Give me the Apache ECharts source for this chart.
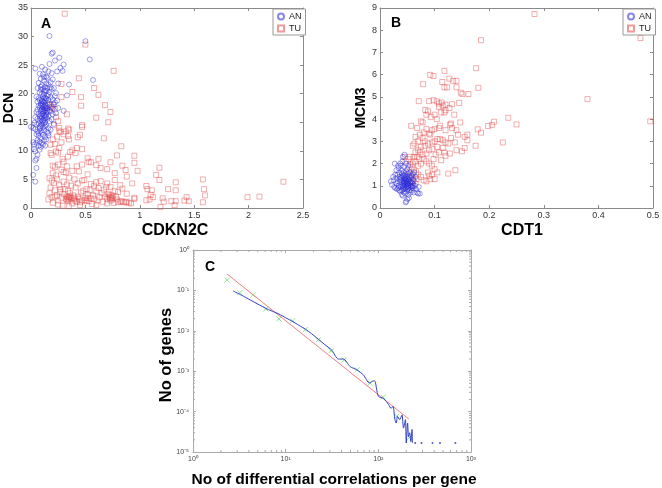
<!DOCTYPE html>
<html>
<head>
<meta charset="utf-8">
<script src="https://cdn.jsdelivr.net/npm/echarts@6/dist/echarts.min.js"></script>
<style>html,body{margin:0;padding:0;background:#fff}#c{width:662px;height:488px}</style>
</head>
<body>
<div id="c"></div>
<script>
// ---------- Panel A : CDKN2C vs DCN ----------
const anA = [
[0.17,30.1],[0.50,29.2],[0.20,27.2],[0.19,27.0],[0.54,26.0],[0.26,26.3],[0.22,25.8],[0.30,25.1],[0.17,25.2],[0.04,24.4],
[0.27,24.5],[0.24,23.9],[0.29,24.0],[0.10,24.7],[0.13,24.2],[0.16,23.9],[0.19,23.6],[0.11,23.4],[0.14,23.0],[0.08,23.5],
[0.57,22.4],[0.09,22.6],[0.12,22.3],[0.15,22.8],[0.18,22.0],[0.20,22.5],[0.25,21.8],[0.35,21.6],[0.07,21.9],[0.10,21.5],
[0.13,21.2],[0.16,21.6],[0.21,21.0],[0.06,21.0],[0.09,20.7],[0.11,20.9],[0.14,20.5],[0.17,20.3],[0.19,20.8],[0.23,20.1],
[0.08,20.2],[0.12,19.9],[0.15,19.6],[0.18,19.4],[0.33,19.7],[0.05,19.5],[0.07,19.2],[0.10,19.0],[0.13,18.8],[0.16,18.9],
[0.20,19.0],[0.22,18.5],[0.06,18.6],[0.09,18.3],[0.11,18.1],[0.14,17.9],[0.17,18.2],[0.19,17.7],[0.21,18.1],[0.25,17.5],
[0.30,17.0],[0.08,17.6],[0.10,17.3],[0.12,17.8],[0.13,17.1],[0.15,17.4],[0.18,16.9],[0.23,16.6],[0.05,16.8],[0.07,16.5],
[0.09,16.2],[0.11,16.6],[0.14,16.3],[0.16,16.0],[0.20,16.4],[0.04,15.9],[0.06,15.6],[0.08,15.3],[0.10,15.8],[0.12,15.4],
[0.13,15.0],[0.15,15.6],[0.17,15.2],[0.19,15.5],[0.03,14.9],[0.05,14.6],[0.07,14.8],[0.09,14.4],[0.11,14.1],[0.14,14.5],
[0.16,14.0],[0.21,14.7],[0.00,14.2],[0.02,14.0],[0.04,13.8],[0.06,13.4],[0.08,13.9],[0.10,13.2],[0.12,13.6],[0.15,13.3],
[0.18,13.7],[0.05,12.9],[0.07,12.6],[0.09,12.2],[0.11,12.8],[0.13,12.4],[0.16,12.7],[0.06,11.9],[0.08,11.6],[0.10,11.3],
[0.12,11.8],[0.02,11.5],[0.03,11.1],[0.05,11.4],[0.07,10.9],[0.09,10.7],[0.03,10.3],[0.04,9.9],[0.06,9.3],[0.05,8.6],
[0.04,8.3],[0.05,7.0],[0.02,5.8],[0.04,4.6],[0.11,19.5],[0.12,18.5],[0.13,19.3],[0.10,18.7],[0.14,19.1],[0.12,17.2],
[0.11,16.9],[0.13,16.1],[0.10,16.4],[0.12,16.8],[0.09,17.0],[0.14,17.5],[0.15,18.4],[0.13,18.0],[0.11,17.6],[0.10,15.1],
[0.12,14.8],[0.09,15.6],[0.14,15.9],[0.08,14.2],[0.11,15.3],[0.13,14.3],[0.12,20.4],[0.10,20.0],[0.13,20.6],[0.16,19.8],
[0.15,21.0],[0.09,21.2],[0.14,21.8],[0.12,22.9],[0.17,17.1],[0.07,17.9],[0.06,17.2],[0.08,18.9],[0.18,21.1],[0.22,19.6],
[0.24,18.8],[0.20,17.4],[0.08,16.0],[0.16,13.1],[0.07,13.1],[0.09,13.5],[0.14,12.0],[0.11,11.1],[0.08,10.2],[0.13,10.9],
[0.12,16.2],[0.11,18.6],[0.13,17.5],[0.10,17.9],[0.14,16.7],[0.09,18.0],[0.15,17.0],[0.12,19.2],[0.10,14.6],[0.13,15.7]
];
const tuA = [
[0.31,34.0],[0.50,28.6],[0.76,24.0],[0.44,22.7],[0.28,21.7],[0.58,21.0],[0.62,19.8],[0.38,20.3],[0.46,19.4],[0.28,19.4],
[0.46,17.9],[0.68,18.0],[0.73,16.8],[0.33,16.4],[0.60,15.8],[0.71,15.0],[0.47,14.5],[0.47,14.2],[0.34,13.9],[0.35,13.7],
[0.32,13.4],[0.30,12.9],[0.34,12.6],[0.35,12.0],[0.67,12.2],[0.26,13.5],[0.28,11.5],[0.22,11.2],[0.43,12.4],[0.45,12.8],
[0.83,10.8],[0.42,10.5],[0.38,10.1],[0.47,10.3],[0.36,9.8],[0.25,9.7],[0.23,9.9],[0.18,9.6],[0.19,9.3],[0.34,9.0],
[0.41,9.6],[0.62,8.6],[0.79,9.2],[0.95,9.15],[0.95,7.9],[0.73,8.0],[0.52,8.7],[0.53,8.1],[0.55,8.0],[0.29,8.6],
[0.30,8.1],[0.25,7.6],[0.20,7.4],[0.22,7.2],[0.33,7.3],[0.42,7.3],[0.47,7.6],[0.60,7.5],[0.64,7.0],[0.70,6.8],
[0.77,6.1],[0.84,7.4],[0.87,6.65],[0.98,6.5],[1.18,7.05],[1.15,5.8],[0.88,5.5],[0.52,5.9],[0.44,6.4],[0.38,6.5],
[0.32,6.2],[0.30,6.3],[0.28,6.7],[0.20,6.1],[0.23,5.7],[0.35,5.3],[0.40,5.0],[0.49,4.9],[0.60,4.5],[0.70,4.3],
[0.77,4.9],[0.73,3.7],[0.82,4.0],[0.93,4.3],[1.06,3.85],[1.18,4.9],[1.33,4.5],[1.58,5.0],[1.59,3.3],[1.60,2.2],
[1.58,1.0],[2.32,4.6],[1.99,1.9],[2.10,2.0],[1.26,3.3],[1.33,3.1],[1.07,3.3],[1.11,3.1],[1.43,1.9],[1.45,1.2],
[1.41,1.3],[1.33,1.2],[1.32,0.5],[1.29,1.2],[1.21,1.7],[1.22,1.1],[1.19,0.2],[1.12,1.9],[1.10,2.3],[1.09,1.5],
[1.06,1.35],[0.95,1.8],[0.95,1.6],[0.88,2.5],[0.88,1.1],[0.92,0.8],[0.87,1.0],[0.83,1.2],[0.80,1.0],[0.78,2.0],
[0.17,2.6],[0.19,1.9],[0.16,1.5],[0.20,0.9],[0.22,3.1],[0.24,2.2],[0.25,1.3],[0.27,2.8],[0.28,1.8],[0.29,0.4],
[0.30,2.4],[0.31,3.3],[0.32,1.6],[0.33,2.0],[0.34,1.2],[0.34,3.0],[0.35,1.9],[0.36,2.6],[0.37,1.7],[0.38,0.8],
[0.39,2.2],[0.40,1.5],[0.41,3.6],[0.42,1.1],[0.43,2.0],[0.44,1.6],[0.45,0.5],[0.46,2.7],[0.47,1.3],[0.48,3.0],
[0.50,1.8],[0.51,3.3],[0.52,2.4],[0.53,1.2],[0.54,3.1],[0.55,1.7],[0.56,0.7],[0.57,2.2],[0.58,1.6],[0.60,2.9],
[0.61,1.3],[0.62,3.5],[0.63,1.9],[0.65,2.6],[0.66,1.1],[0.67,3.2],[0.68,2.0],[0.69,3.7],[0.70,1.6],[0.71,2.5],
[0.72,1.9],[0.73,1.3],[0.74,2.2],[0.75,1.7],[0.76,0.9],[0.77,3.0],[0.79,1.5],[0.80,2.8],[0.82,1.1],[0.84,3.4],
[0.85,1.0],[0.90,0.9],[0.18,3.6],[0.21,4.4],[0.26,4.0],[0.30,4.6],[0.33,4.1],[0.37,3.9],[0.43,4.3],[0.47,4.8],
[0.55,4.2],[0.58,3.9],[0.64,4.7],[0.25,0.6],[0.35,0.3],[0.45,1.0],[0.60,0.5],[0.70,0.8],[0.33,1.4],[0.34,1.8],
[0.35,1.5],[0.36,2.0],[0.72,2.3],[0.73,1.8],[0.74,1.5],[0.75,2.0],[0.50,1.4],[0.51,1.2],[0.52,1.7],[0.40,1.8],
[0.41,1.2],[0.17,18.0],[0.19,17.6],[0.20,18.1],[0.15,16.9],[0.22,17.3],[0.23,15.9],[0.25,15.2],[0.21,14.5],[0.27,13.3],
[0.20,12.0],[0.18,11.1],[0.26,14.0],[0.24,12.5],[0.26,10.5],[0.17,5.2],[0.19,4.8],[0.24,5.1],[0.27,3.3],[0.22,2.0]
];

// ---------- Panel B : CDT1 vs MCM3 ----------
const anB = [
[0.045,2.4],[0.042,2.3],[0.027,2.0],[0.030,1.7],[0.034,1.8],[0.038,1.9],[0.044,1.85],[0.050,1.75],[0.055,1.6],[0.060,1.55],
[0.025,1.25],[0.020,1.2],[0.022,1.05],[0.026,0.95],[0.028,0.9],[0.030,1.35],[0.032,1.5],[0.035,1.6],[0.036,1.4],[0.038,1.25],
[0.040,1.55],[0.042,1.45],[0.044,1.3],[0.046,1.5],[0.048,1.65],[0.050,1.4],[0.052,1.3],[0.054,1.45],[0.056,1.2],[0.058,1.35],
[0.060,1.1],[0.062,1.25],[0.064,1.0],[0.066,0.85],[0.068,0.7],[0.070,0.65],[0.035,0.8],[0.037,0.75],[0.040,0.6],[0.042,0.55],
[0.044,0.7],[0.046,0.85],[0.048,0.3],[0.047,0.25],[0.050,0.4],[0.053,0.45],[0.056,0.7],[0.058,0.8],[0.060,0.9],[0.030,1.1],
[0.032,1.2],[0.034,1.0],[0.036,1.15],[0.038,0.95],[0.040,1.05],[0.041,1.2],[0.043,1.1],[0.045,1.0],[0.046,1.15],[0.047,1.25],
[0.048,1.05],[0.049,0.95],[0.050,1.1],[0.051,1.2],[0.052,1.0],[0.053,0.9],[0.054,1.05],[0.055,1.15],[0.057,1.0],[0.059,0.95],
[0.044,0.9],[0.042,0.85],[0.039,1.35],[0.041,1.4],[0.043,1.6],[0.045,1.35],[0.047,1.4],[0.049,1.3],[0.051,1.55],[0.053,1.25],
[0.055,1.35],[0.057,1.45],[0.040,0.8],[0.046,0.65],[0.050,0.75],[0.052,0.6],[0.062,0.7],[0.065,1.4],[0.063,1.6],[0.033,1.9],
[0.028,1.5],[0.024,1.4],[0.048,2.0],[0.052,1.9],[0.041,2.1],[0.037,2.0],[0.043,0.95],[0.046,1.05],[0.049,1.15],[0.047,0.9],
[0.051,0.85],[0.054,0.8],[0.045,1.2],[0.044,1.45],[0.040,1.7],[0.036,1.3],[0.033,0.9],[0.031,0.85],[0.058,1.15],[0.061,1.3],
[0.056,0.95],[0.060,1.0],[0.071,0.95],[0.073,0.65],[0.042,1.0],[0.048,1.2],[0.050,0.95],[0.044,1.15],[0.046,1.3],[0.052,1.1]
];
const tuB = [
[0.283,8.73],[0.477,7.65],[0.185,7.55],[0.380,4.9],[0.495,3.9],[0.176,6.29],[0.180,5.41],[0.118,6.17],[0.092,5.99],[0.098,5.94],
[0.079,5.57],[0.114,5.67],[0.127,5.82],[0.134,5.72],[0.140,5.72],[0.118,5.43],[0.123,5.43],[0.140,5.43],[0.148,5.19],[0.151,5.13],
[0.162,5.13],[0.071,4.81],[0.090,4.81],[0.098,4.85],[0.104,4.8],[0.108,4.7],[0.113,4.75],[0.115,4.6],[0.120,4.65],[0.132,4.67],
[0.145,4.73],[0.083,4.41],[0.088,4.35],[0.085,4.2],[0.108,4.55],[0.120,4.4],[0.118,4.3],[0.127,4.5],[0.093,4.1],[0.100,4.2],
[0.075,3.9],[0.078,3.85],[0.057,3.7],[0.235,4.06],[0.250,3.76],[0.209,3.88],[0.205,3.74],[0.198,3.69],[0.179,3.54],[0.185,3.39],
[0.160,3.3],[0.155,3.2],[0.160,3.05],[0.175,2.8],[0.225,2.95],[0.155,2.7],[0.150,2.55],[0.140,2.6],[0.147,3.85],[0.130,3.8],
[0.132,3.6],[0.128,3.75],[0.140,3.5],[0.120,3.5],[0.110,3.7],[0.108,3.6],[0.100,3.55],[0.095,3.5],[0.092,3.3],[0.085,3.55],
[0.090,3.35],[0.080,3.4],[0.078,3.15],[0.070,3.0],[0.065,3.2],[0.063,2.9],[0.060,2.8],[0.065,2.5],[0.070,2.6],[0.075,2.75],
[0.082,2.8],[0.088,2.9],[0.095,2.95],[0.100,3.0],[0.105,3.1],[0.110,3.1],[0.115,3.05],[0.120,2.95],[0.125,2.9],[0.130,3.15],
[0.128,2.45],[0.120,2.35],[0.118,2.5],[0.112,2.15],[0.125,1.55],[0.138,1.7],[0.105,1.6],[0.100,1.75],[0.095,1.9],[0.090,2.0],
[0.085,2.1],[0.080,2.2],[0.078,2.4],[0.073,2.5],[0.068,2.3],[0.065,2.1],[0.060,2.0],[0.058,1.85],[0.055,1.95],[0.062,1.7],
[0.066,1.6],[0.070,1.5],[0.075,1.4],[0.080,1.25],[0.085,1.2],[0.090,1.45],[0.095,1.5],[0.100,1.3],[0.067,1.3],[0.058,1.5],
[0.060,1.2],[0.053,1.6],[0.052,2.2],[0.045,2.3],[0.055,2.3],[0.070,1.9],[0.075,2.0],[0.088,1.6],[0.092,1.3],[0.098,2.2],
[0.102,2.4],[0.108,2.5],[0.090,2.6],[0.085,2.45],[0.047,2.1],[0.060,1.0],[0.065,1.1],[0.112,4.3],[0.104,4.0],[0.136,4.2],
[0.143,3.3],[0.137,2.95],[0.115,2.7],[0.105,2.75],[0.096,2.65],[0.082,3.0],[0.073,3.3],[0.068,3.6],[0.072,2.2],[0.062,2.3]
];

// ---------- Panel C : degree distribution (log-log) ----------
const cMarkX = [2.33,3.2,4.46,6.1,8.45,11.9,16.3,22.5,30.8,42.7,59,81.5,113,158,218];
const cMarkY = [0.18,0.088,0.077,0.035,0.0197,0.0176,0.0107,0.006,0.0032,0.0019,0.00108,0.000507,0.000229,7.7e-5,2.3e-5];
const cLineX = [2.71,3.5,4.46,6.1,8.45,10,11.9,14,16.3,19,22.5,26,31.5,37,42,49.6,58.7,69,80,86,91,100,114,129,137,144,151,156,161,170,180,187,196,200,207,212,218,224,231,233];
const cLineY = [0.097,0.072,0.053,0.036,0.026,0.021,0.017,0.0135,0.011,0.0085,0.0062,0.0047,0.0033,0.002,0.002,0.0013,0.00108,0.00081,0.00051,0.00056,0.00058,0.00024,0.00021,0.00015,0.00012,0.000135,6.3e-5,5.2e-5,7.6e-5,6.3e-5,8.3e-5,3.9e-5,6.3e-5,1.67e-5,5.2e-5,2.4e-5,3.0e-5,1.8e-5,3.6e-5,1.67e-5];
const cFitX = [2.33,214];
const cFitY = [0.255,6.5e-5];
const cDotX = [250,292,384,463,678];
const cDotY = [1.67e-5,1.67e-5,1.67e-5,1.67e-5,1.67e-5];
// minor (2..9 per decade) tick values of the log axes
const cMinorX = [2,3,4,5,6,7,8,9,20,30,40,50,60,70,80,90,200,300,400,500,600,700,800,900];
const cMinorY = [2e-5,3e-5,4e-5,5e-5,6e-5,7e-5,8e-5,9e-5,2e-4,3e-4,4e-4,5e-4,6e-4,7e-4,8e-4,9e-4,
                 2e-3,3e-3,4e-3,5e-3,6e-3,7e-3,8e-3,9e-3,0.02,0.03,0.04,0.05,0.06,0.07,0.08,0.09,0.2,0.3,0.4,0.5,0.6,0.7,0.8,0.9];

const zip = (xs, ys) => xs.map((x, i) => [x, ys[i]]);
const FONT = '"Liberation Sans", Arial, sans-serif';
const SUP = {'0':'⁰','1':'¹','2':'²','3':'³','4':'⁴','5':'⁵','-':'⁻'};
const logFmt = v => '10' + String(Math.round(Math.log10(v))).split('').map(c => SUP[c]).join('');

const frameColor = '#8a8a8a';
const cFrame = '#aaa';
function axis(gridIndex, pos, opt, showLabel, labelSize) {
  return Object.assign({
    gridIndex, position: pos, type: 'value',
    axisLine: {show: true, onZero: false, lineStyle: {color: frameColor, width: 1}},
    axisTick: {show: true, inside: true, length: 3, lineStyle: {color: frameColor}},
    axisLabel: {show: showLabel, fontSize: labelSize || 9, color: '#333', margin: 3, fontFamily: FONT},
    splitLine: {show: false}
  }, opt);
}
const ax = {min: 0, max: 2.5, interval: 0.5};
const ay = {min: 0, max: 35, interval: 5};
const bx = {min: 0, max: 0.5, interval: 0.1};
const by = {min: 0, max: 9, interval: 1};
const cLine = {axisLine: {show: true, onZero: false, lineStyle: {color: cFrame}}, axisTick: {show: true, inside: true, length: 3, lineStyle: {color: cFrame}}};
const cLbl = {axisLabel: {fontSize: 7, color: '#444', margin: 4, fontFamily: FONT, formatter: logFmt}};
const cx = {type: 'log', logBase: 10, min: 1, max: 1000};
const cy = {type: 'log', logBase: 10, min: 1e-5, max: 1};

const anStyle = {color: 'rgba(0,0,0,0)', borderColor: 'rgba(40,40,215,0.7)', borderWidth: 0.8};
const tuStyle = {color: 'rgba(0,0,0,0)', borderColor: 'rgba(225,60,60,0.65)', borderWidth: 0.8};

function minorTicks(isX) {
  return function (params, api) {
    const v = api.value(0);
    const a = isX ? api.coord([v, 1e-5]) : api.coord([1, v]);
    const b = isX ? api.coord([v, 1]) : api.coord([1000, v]);
    const st = {stroke: cFrame, lineWidth: 1};
    return {type: 'group', children: isX ? [
      {type: 'line', shape: {x1: a[0], y1: a[1], x2: a[0], y2: a[1] - 2}, style: st},
      {type: 'line', shape: {x1: b[0], y1: b[1], x2: b[0], y2: b[1] + 2}, style: st}
    ] : [
      {type: 'line', shape: {x1: a[0], y1: a[1], x2: a[0] + 2, y2: a[1]}, style: st},
      {type: 'line', shape: {x1: b[0], y1: b[1], x2: b[0] - 2, y2: b[1]}, style: st}
    ]};
  };
}

const chart = echarts.init(document.getElementById('c'), null, {renderer: 'canvas'});
const legendBase = {
  orient: 'vertical', data: ['AN', 'TU'], itemWidth: 6, itemHeight: 6, itemGap: 3,
  padding: [3, 4, 2, 4], borderColor: '#999', borderWidth: 1, backgroundColor: '#fff',
  textStyle: {fontSize: 9, color: '#222', fontFamily: FONT, lineHeight: 8}, selectedMode: false
};
const txt = (text, x, y, size, rot) => ({
  type: 'text', x, y, rotation: rot || 0,
  style: {text, fontSize: size, fontWeight: 'bold', fontFamily: FONT, fill: '#000', align: 'center', verticalAlign: 'middle'}
});
const option = {
  backgroundColor: '#fff',
  animation: false,
  grid: [
    {left: 31, top: 8, width: 272, height: 200, outerBoundsMode: 'none', containLabel: false},
    {left: 380, top: 8, width: 273, height: 200, outerBoundsMode: 'none', containLabel: false},
    {left: 193, top: 250, width: 278, height: 202, outerBoundsMode: 'none', containLabel: false}
  ],
  legend: [
    Object.assign({left: 273, top: 9}, legendBase),
    Object.assign({left: 623, top: 9}, legendBase)
  ],
  xAxis: [
    axis(0, 'bottom', ax, true), axis(0, 'top', ax, false),
    axis(1, 'bottom', bx, true), axis(1, 'top', bx, false),
    axis(2, 'bottom', Object.assign({}, cLine, cLbl, cx), true),
    axis(2, 'top', Object.assign({}, cLine, cx), false)
  ],
  yAxis: [
    axis(0, 'left', ay, true), axis(0, 'right', ay, false),
    axis(1, 'left', by, true), axis(1, 'right', by, false),
    axis(2, 'left', Object.assign({}, cLine, cLbl, cy), true),
    axis(2, 'right', Object.assign({}, cLine, cy), false)
  ],
  series: [
    {name: 'TU', type: 'scatter', xAxisIndex: 0, yAxisIndex: 0, data: tuA, symbol: 'rect', symbolSize: 5, itemStyle: tuStyle},
    {name: 'AN', type: 'scatter', xAxisIndex: 0, yAxisIndex: 0, data: anA, symbol: 'circle', symbolSize: 5, itemStyle: anStyle},
    {name: 'TU', type: 'scatter', xAxisIndex: 2, yAxisIndex: 2, data: tuB, symbol: 'rect', symbolSize: 5, itemStyle: tuStyle},
    {name: 'AN', type: 'scatter', xAxisIndex: 2, yAxisIndex: 2, data: anB, symbol: 'circle', symbolSize: 5, itemStyle: anStyle},
    {type: 'custom', xAxisIndex: 4, yAxisIndex: 4, data: cMinorX.map(v => [v, 0.01]), renderItem: minorTicks(true), silent: true},
    {type: 'custom', xAxisIndex: 4, yAxisIndex: 4, data: cMinorY.map(v => [v, 10]), renderItem: minorTicks(false), silent: true,
      encode: {x: 1, y: 0}},
    {type: 'line', xAxisIndex: 4, yAxisIndex: 4, data: zip(cFitX, cFitY), symbol: 'none', lineStyle: {color: '#f08080', width: 1}},
    {type: 'line', xAxisIndex: 4, yAxisIndex: 4, data: zip(cLineX, cLineY), symbol: 'none', smooth: 0.25, lineStyle: {color: '#3040c8', width: 1}},
    {type: 'scatter', xAxisIndex: 4, yAxisIndex: 4, data: zip(cDotX, cDotY), symbol: 'circle', symbolSize: 2, itemStyle: {color: '#2030b0'}},
    {type: 'scatter', xAxisIndex: 4, yAxisIndex: 4, data: zip(cMarkX, cMarkY), symbol: 'path://M0,0L10,10M10,0L0,10', symbolSize: 5,
      itemStyle: {color: 'rgba(0,0,0,0)', borderColor: '#70dd70', borderWidth: 1}}
  ],
  graphic: [
    txt('A', 46, 24, 14), txt('B', 396, 23, 14), txt('C', 210, 267, 14),
    txt('DCN', 9, 108, 14, Math.PI / 2),
    txt('CDKN2C', 175, 231, 16),
    txt('MCM3', 361, 108, 14, Math.PI / 2),
    txt('CDT1', 522, 231, 16),
    txt('No of genes', 166, 355, 16.5, Math.PI / 2),
    txt('No of differential correlations per gene', 334, 480, 15.5)
  ]
};
chart.setOption(option);
</script>
</body>
</html>
